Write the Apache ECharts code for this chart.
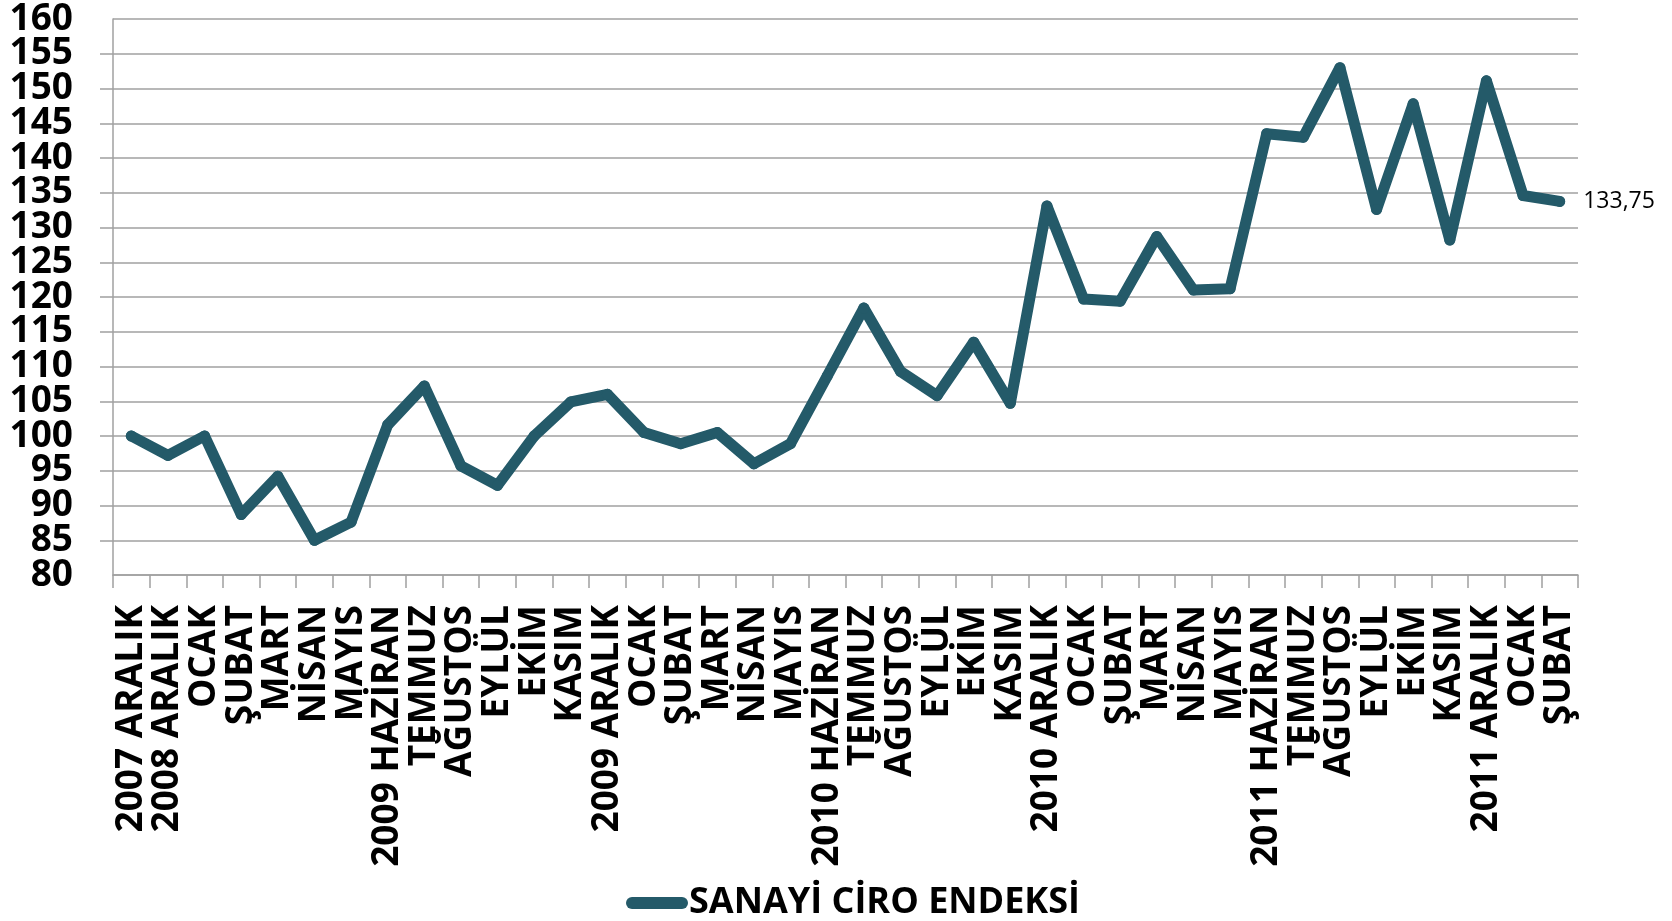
<!DOCTYPE html>
<html>
<head>
<meta charset="utf-8">
<script src="https://cdn.jsdelivr.net/npm/echarts@6/dist/echarts.min.js"></script>
<style>
  html, body { margin: 0; padding: 0; background: #fff; }
  #chart { width: 1672px; height: 921px; }
</style>
</head>
<body>
<div id="chart"></div>
<script>
// kategori etiketleri (x ekseni)
var months = [
  "2007 ARALIK", "2008 ARALIK", "OCAK", "ŞUBAT", "MART", "NİSAN", "MAYIS",
  "2009 HAZİRAN", "TEMMUZ", "AĞUSTOS", "EYLÜL", "EKİM", "KASIM",
  "2009 ARALIK", "OCAK", "ŞUBAT", "MART", "NİSAN", "MAYIS",
  "2010 HAZİRAN", "TEMMUZ", "AĞUSTOS", "EYLÜL", "EKİM", "KASIM",
  "2010 ARALIK", "OCAK", "ŞUBAT", "MART", "NİSAN", "MAYIS",
  "2011 HAZİRAN", "TEMMUZ", "AĞUSTOS", "EYLÜL", "EKİM", "KASIM",
  "2011 ARALIK", "OCAK", "ŞUBAT"
];

// sanayi ciro endeksi değerleri
var ciroValues = [
  100, 97.2, 100, 88.7, 94.2, 85.0, 87.6,
  101.6, 107.2, 95.7, 92.9, 100, 104.9,
  106.0, 100.5, 98.9, 100.5, 96.0, 98.9,
  108.6, 118.4, 109.3, 105.8, 113.5, 104.7,
  133.1, 119.7, 119.4, 128.7, 121.0, 121.2,
  143.5, 143.0, 153.0, 132.6, 147.8, 128.2,
  151.1, 134.6, 133.75
];

var yMin = 80, yMax = 160, yStep = 5;
var seriesName = "SANAYİ CİRO ENDEKSİ";
var lastLabel = "133,75";

var lineColor = "#245a69";
var gridColor = "#a0a0a0";
var fontFam = "'Open Sans', 'DejaVu Sans', sans-serif";

var seriesData = ciroValues.map(function (v, i) {
  if (i === ciroValues.length - 1) {
    return {
      value: v,
      label: {
        show: true,
        position: "right",
        distance: 18,
        formatter: lastLabel,
        color: "#000",
        fontSize: 23,
        fontFamily: fontFam
      }
    };
  }
  return v;
});

var yLabelStyle = {
  show: true,
  margin: 40,
  color: "#000",
  fontSize: 37,
  fontWeight: "bold",
  fontFamily: fontFam
};

var myChart = echarts.init(document.getElementById("chart"), null, { renderer: "canvas" });

var option = {
  animation: false,
  backgroundColor: "#ffffff",
  grid: {
    left: 113,
    right: 94,
    top: 19,
    bottom: 346,
    containLabel: false,
    outerBoundsMode: "none"
  },
  legend: {
    show: true,
    left: 626,
    top: 884,
    padding: 0,
    data: [seriesName],
    icon: "path://M6,0 H56 A6,6 0 0 1 56,12 H6 A6,6 0 0 1 6,0 Z",
    itemWidth: 62,
    itemHeight: 12,
    itemGap: 10,
    textStyle: {
      fontSize: 36,
      fontWeight: "bold",
      color: "#000",
      fontFamily: fontFam,
      lineHeight: 38,
      padding: [0, 0, 0, -4]
    }
  },
  xAxis: {
    type: "category",
    data: months,
    boundaryGap: true,
    axisLine: { show: true, lineStyle: { color: gridColor, width: 1.5 } },
    axisTick: {
      show: true,
      interval: 0,
      length: 13,
      alignWithLabel: false,
      lineStyle: { color: gridColor, width: 1.5 }
    },
    axisLabel: {
      show: true,
      interval: 0,
      rotate: 90,
      margin: 30,
      color: "#000",
      fontSize: 37,
      lineHeight: 30,
      fontWeight: "bold",
      fontFamily: fontFam
    },
    splitLine: { show: false }
  },
  yAxis: [{
    // ana eksen: çizgi, tikler, ızgara ve 85..155 etiketleri
    type: "value",
    position: "left",
    min: yMin,
    max: yMax,
    interval: yStep,
    axisLine: { show: true, lineStyle: { color: gridColor, width: 1.5 } },
    axisTick: {
      show: true,
      length: 13,
      lineStyle: { color: gridColor, width: 1.5 }
    },
    axisLabel: Object.assign({ showMinLabel: false, showMaxLabel: false }, yLabelStyle),
    splitLine: { show: true, lineStyle: { color: gridColor, width: 1.5 } }
  }, {
    // sadece 80 ve 160 etiketleri
    type: "value",
    position: "left",
    offset: 0,
    min: yMin,
    max: yMax,
    interval: yMax - yMin,
    axisLine: { show: false },
    axisTick: { show: false },
    axisLabel: Object.assign({ showMinLabel: true, showMaxLabel: true }, yLabelStyle),
    splitLine: { show: false }
  }],
  series: [{
    name: seriesName,
    type: "line",
    yAxisIndex: 0,
    data: seriesData,
    showSymbol: true,
    symbol: "circle",
    symbolSize: 11,
    itemStyle: { color: lineColor, borderWidth: 0 },
    lineStyle: { color: lineColor, width: 11, join: "round", cap: "round" },
    emphasis: { disabled: true },
    silent: true
  }]
};

myChart.setOption(option);
</script>
</body>
</html>
